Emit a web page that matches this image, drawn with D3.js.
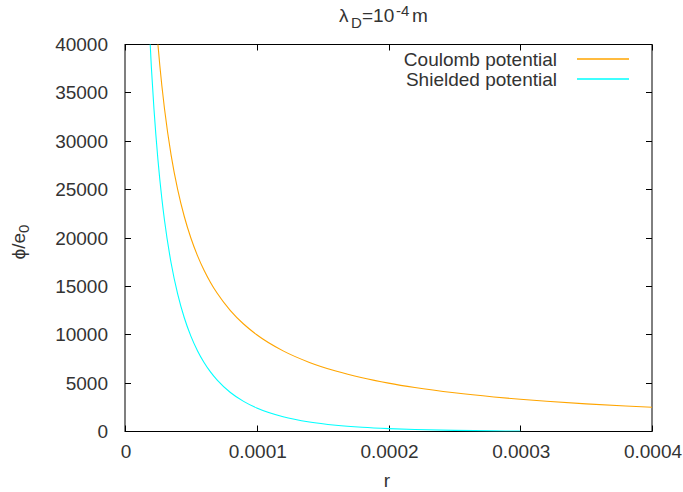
<!DOCTYPE html>
<html><head><meta charset="utf-8">
<script src="https://cdn.jsdelivr.net/npm/d3@7"></script>
<style>
body{margin:0;background:#fff;}
text{font-family:"Liberation Sans",Arial,sans-serif;fill:#333;}
</style></head><body>
<svg id="c" width="683" height="492"></svg>
<script>
const xTicks = [0, 0.0001, 0.0002, 0.0003, 0.0004];
const xTickLabels = ["0", "0.0001", "0.0002", "0.0003", "0.0004"];
const yTicks = [0, 5000, 10000, 15000, 20000, 25000, 30000, 35000, 40000];
const coulombR = [0.00002, 0.000022, 0.000025, 0.000028, 0.00003, 0.000035, 0.00004, 0.000045, 0.00005, 0.000055, 0.00006, 0.000065, 0.00007, 0.00008, 0.00009, 0.0001, 0.00012, 0.00014, 0.00016, 0.00018, 0.0002, 0.00022, 0.00025, 0.00028, 0.0003, 0.00032, 0.00035, 0.00038, 0.0004];
const coulombPhi = [50000, 45455, 40000, 35714, 33333, 28571, 25000, 22222, 20000, 18182, 16667, 15385, 14286, 12500, 11111, 10000, 8333, 7143, 6250, 5556, 5000, 4545, 4000, 3571, 3333, 3125, 2857, 2632, 2500];
const shieldR = [0.000015, 0.000018, 0.00002, 0.000022, 0.000025, 0.000028, 0.00003, 0.000035, 0.00004, 0.000045, 0.00005, 0.000055, 0.00006, 0.000065, 0.00007, 0.00008, 0.00009, 0.0001, 0.00012, 0.00014, 0.00016, 0.00018, 0.0002, 0.00022, 0.00025, 0.00028, 0.0003];
const shieldPhi = [53926, 43072, 37680, 33300, 28088, 24036, 21807, 17417, 14200, 11760, 9862, 8353, 7133, 6136, 5309, 4032, 3112, 2431, 1527, 986, 650, 436, 296, 203, 117, 68, 48];
const seriesNames = ["Coulomb potential", "Shielded potential"];
const seriesColors = ["#ffa500", "#00ffff"];

const L = 125, R = 652, T = 44.5, B = 431.5;
const svg = d3.select("#c");
const x = d3.scaleLinear().domain([0, 0.0004]).range([L, R]);
const y = d3.scaleLinear().domain([0, 40000]).range([B, T]);

svg.append("defs").append("clipPath").attr("id", "clip")
  .append("rect").attr("x", L).attr("y", T).attr("width", R - L).attr("height", B - T);

const fs = 19, fsSub = 15;
const tl = 6;
const g = svg.append("g");
xTicks.forEach((v, i) => {
  const px = Math.round(x(v)) + 0.5;
  g.append("line").attr("x1", px).attr("x2", px).attr("y1", B).attr("y2", B - tl).attr("stroke", "#000");
  g.append("line").attr("x1", px).attr("x2", px).attr("y1", T).attr("y2", T + tl).attr("stroke", "#000");
  g.append("text").attr("x", x(v) + 1).attr("y", 458).attr("text-anchor", "middle").attr("font-size", fs).text(xTickLabels[i]);
});
yTicks.forEach(v => {
  const py = Math.round(y(v) - 0.5) + 0.5;
  g.append("line").attr("x1", L).attr("x2", L + tl).attr("y1", py).attr("y2", py).attr("stroke", "#000");
  g.append("line").attr("x1", R).attr("x2", R - tl).attr("y1", py).attr("y2", py).attr("stroke", "#000");
  g.append("text").attr("x", 108).attr("y", y(v) + 6.5).attr("text-anchor", "end").attr("font-size", fs).text(d3.format("d")(v));
});

svg.append("rect").attr("x", L).attr("y", T).attr("width", R - L).attr("height", B - T)
  .attr("fill", "none").attr("stroke", "#000").attr("stroke-width", 1);

const line = d3.line().x(d => x(d[0])).y(d => y(d[1])).curve(d3.curveMonotoneX);
const cData = coulombR.map((r, i) => [r, coulombPhi[i]]);
const sData = shieldR.map((r, i) => [r, shieldPhi[i]]);
const pg = svg.append("g").attr("clip-path", "url(#clip)");
pg.append("path").attr("d", line(cData)).attr("fill", "none").attr("stroke", seriesColors[0]).attr("stroke-width", 1.1);
pg.append("path").attr("d", line(sData)).attr("fill", "none").attr("stroke", seriesColors[1]).attr("stroke-width", 1.1);

seriesNames.forEach((n, i) => {
  const ly = 59 + i * 20;
  svg.append("text").attr("x", 557).attr("y", ly + 6.5).attr("text-anchor", "end").attr("font-size", fs).text(n);
  svg.append("rect").attr("x", 577).attr("y", ly - 0.75).attr("width", 52).attr("height", 1.5)
    .attr("fill", seriesColors[i]);
});

// title
const tg = svg.append("g");
tg.append("text").attr("x", 339).attr("y", 22).attr("font-size", fs).text("λ");
tg.append("text").attr("x", 351).attr("y", 28).attr("font-size", fsSub).text("D");
tg.append("text").attr("x", 362).attr("y", 22).attr("font-size", fs).text("=10");
tg.append("text").attr("x", 396).attr("y", 16).attr("font-size", fsSub).text("-4");
tg.append("text").attr("x", 412).attr("y", 22).attr("font-size", fs).text("m");

svg.append("text").attr("x", 387).attr("y", 487).attr("text-anchor", "middle").attr("font-size", fs).text("r");
const yl = svg.append("text").attr("transform", "translate(25,242) rotate(-90)").attr("text-anchor", "middle").attr("font-size", fs);
yl.append("tspan").text("ϕ/e");
yl.append("tspan").attr("font-size", fsSub).attr("dy", 4).text("0");
</script></body></html>
